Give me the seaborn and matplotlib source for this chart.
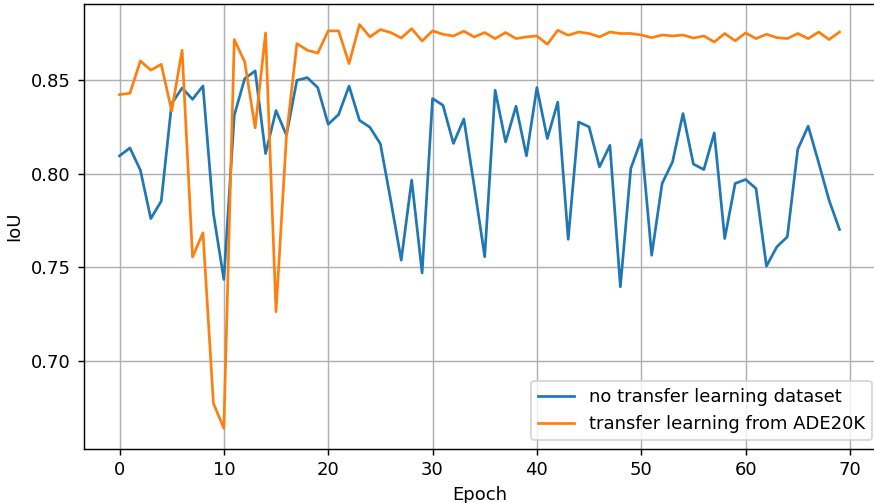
import numpy as np
import pandas as pd
import matplotlib
matplotlib.use("Agg")
import matplotlib.pyplot as plt
import seaborn as sns

epochs = list(range(70))

no_transfer = [
    0.8094, 0.8136, 0.8018, 0.7760, 0.7853, 0.8372, 0.8455, 0.8395, 0.8466, 0.7787,
    0.7436, 0.8310, 0.8505, 0.8546, 0.8106, 0.8335, 0.8204, 0.8496, 0.8510, 0.8457,
    0.8262, 0.8314, 0.8465, 0.8283, 0.8246, 0.8158, 0.7855, 0.7539, 0.7965, 0.7471,
    0.8399, 0.8363, 0.8160, 0.8290, 0.7930, 0.7557, 0.8443, 0.8168, 0.8358, 0.8094,
    0.8457, 0.8186, 0.8380, 0.7650, 0.8274, 0.8248, 0.8035, 0.8150, 0.7397, 0.8027,
    0.8180, 0.7565, 0.7947, 0.8062, 0.8319, 0.8050, 0.8021, 0.8216, 0.7654, 0.7947,
    0.7968, 0.7920, 0.7507, 0.7610, 0.7663, 0.8129, 0.8252, 0.8058, 0.7858, 0.7702,
]

transfer_ade20k = [
    0.8420, 0.8427, 0.8599, 0.8550, 0.8581, 0.8333, 0.8656, 0.7556, 0.7684, 0.6777,
    0.6644, 0.8713, 0.8594, 0.8243, 0.8748, 0.7264, 0.8200, 0.8691, 0.8656, 0.8641,
    0.8759, 0.8759, 0.8585, 0.8793, 0.8727, 0.8766, 0.8750, 0.8721, 0.8771, 0.8705,
    0.8759, 0.8741, 0.8732, 0.8757, 0.8727, 0.8750, 0.8718, 0.8750, 0.8718, 0.8727,
    0.8732, 0.8688, 0.8762, 0.8736, 0.8753, 0.8745, 0.8727, 0.8753, 0.8745, 0.8745,
    0.8737, 0.8723, 0.8737, 0.8732, 0.8737, 0.8721, 0.8732, 0.8700, 0.8745, 0.8706,
    0.8748, 0.8718, 0.8741, 0.8723, 0.8718, 0.8745, 0.8718, 0.8753, 0.8713, 0.8753,
]

labels = ["no transfer learning dataset", "transfer learning from ADE20K"]

df = pd.DataFrame({
    "Epoch": epochs * 2,
    "IoU": no_transfer + transfer_ade20k,
    "series": [labels[0]] * len(epochs) + [labels[1]] * len(epochs),
})

plt.rcParams["font.family"] = ["DejaVu Sans"]
plt.rcParams["font.size"] = 10

DPI = 130
fig = plt.figure(figsize=(874 / DPI, 503 / DPI), dpi=DPI)
ax = fig.add_axes([83.5 / 874, 1 - 448.5 / 503, (875.5 - 83.5) / 874, (448.5 - 4.3) / 503])

sns.lineplot(data=df, x="Epoch", y="IoU", hue="series",
             palette=["#1f77b4", "#ff7f0e"], linewidth=1.5, ax=ax)

ax.grid(True, color="#b0b0b0", linewidth=0.8)
ax.set_axisbelow(True)
ax.set_xticks([0, 10, 20, 30, 40, 50, 60, 70])
ax.set_xlabel("Epoch")
ax.set_ylabel("IoU")
ax.legend(title=None, loc="lower right", bbox_to_anchor=(1.007, -0.002))

fig.savefig("out.png", dpi=DPI)
